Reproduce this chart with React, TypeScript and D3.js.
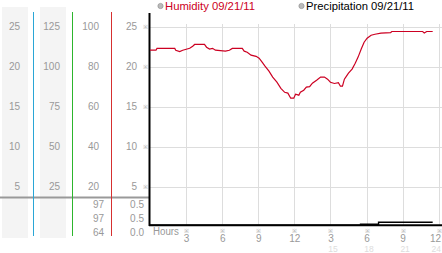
import React from "react";
import * as d3 from "d3";

const humHours = [0,0.5,0.58,2.06,2.14,2.47,2.72,3.3,3.55,3.71,4.53,4.7,4.95,5.2,5.44,6.27,6.6,6.84,7.67,7.83,8.08,8.4,8.82,9.07,9.32,9.56,9.89,10.2,10.55,10.88,11.2,11.46,11.7,11.95,12.1,12.37,12.5,12.78,13.0,13.27,13.5,13.85,14.18,14.5,14.76,15.0,15.33,15.66,15.83,16.0,16.16,16.32,16.5,16.8,17.06,17.3,17.56,17.8,18.05,18.38,18.7,19.2,20.0,20.1,22.67,22.8,23.0,23.5];
const humValues = [22.06,22.06,22.28,22.28,22.06,21.9,22.06,22.3,22.56,22.78,22.78,22.44,22.2,22.3,22.06,21.94,22.06,22.28,22.28,21.94,21.8,21.44,21.3,21.06,20.56,20.06,19.44,18.7,18.06,17.3,16.8,16.7,16.06,16.06,16.56,16.44,16.8,17.06,17.44,17.5,17.94,18.3,18.7,18.7,18.44,18.06,17.9,18.0,17.56,17.56,18.44,18.8,19.2,19.7,20.44,21.2,22.2,23.06,23.56,23.94,24.06,24.2,24.25,24.4,24.4,24.2,24.4,24.4];

const precHours = [0, 17.5, 19.0, 23.5];
const precValues = [0, 0.01, 0.03, 0.03];

const col1Ticks = [25, 20, 15, 10, 5];
const col2Ticks = [125, 100, 75, 50, 25];
const col3Ticks = [100, 80, 60, 40, 20];
const col4Ticks = [25, 20, 15, 10, 5];
const col3Lower = ["97", "97", "64"];
const col4Lower = ["0.5", "0.5", "0.0"];
const hourTicks = [3, 6, 9, 12, 15, 18, 21, 24];
const hourLabels = ["3", "6", "9", "12", "3", "6", "9", "12"];
const hourLabels24 = ["", "", "", "", "15", "18", "21", "24"];

const legendHum = "Humidity 09/21/11";
const legendPrec = "Precipitation 09/21/11";

export default function App() {
  const x = d3.scaleLinear().domain([0, 24]).range([150, 438.7]);
  const y = d3.scaleLinear().domain([0, 25]).range([226.7, 26.7]);
  const yp = d3.scaleLinear().domain([0, 0.1]).range([225.3, 215.3]);
  const lowerY = d3.scalePoint<number>().domain([0, 1, 2]).range([208, 236]);

  const humLine = d3
    .line<number>()
    .x((_, i) => x(humHours[i]))
    .y((d) => y(d))
    .curve(d3.curveLinear)(humValues) as string;

  const precLine = d3
    .line<number>()
    .x((_, i) => x(precHours[i]))
    .y((d) => yp(d))
    .curve(d3.curveStepAfter)(precValues) as string;

  const font = "'Liberation Sans', Arial, sans-serif";
  const gray = "#999";

  return (
    <svg
      width={442}
      height={253}
      style={{ position: "absolute", left: 0, top: 0, background: "#fff" }}
      fontFamily={font}
    >
      {/* shaded columns */}
      <rect x={2} y={7} width={26} height={231} fill="#f4f4f4" />
      <rect x={40} y={7} width={26} height={231} fill="#f4f4f4" />

      {/* horizontal grid */}
      {col4Ticks.map((t) => (
        <line key={"hg" + t} x1={150} x2={442} y1={Math.round(y(t)) + 0.5} y2={Math.round(y(t)) + 0.5} stroke="#ddd" />
      ))}
      {/* vertical grid */}
      {hourTicks.map((h) => (
        <line key={"vg" + h} x1={Math.round(x(h)) + 0.5} x2={Math.round(x(h)) + 0.5} y1={24} y2={225} stroke="#ddd" />
      ))}

      {/* left column labels */}
      {col1Ticks.map((t) => (
        <text key={"c1" + t} x={20} y={y(t) + 3.5} textAnchor="end" fontSize={10} fill={gray}>{t}</text>
      ))}
      {col2Ticks.map((t, i) => (
        <text key={"c2" + t} x={60} y={y(col1Ticks[i]) + 3.5} textAnchor="end" fontSize={10} fill={gray}>{t}</text>
      ))}
      {col3Ticks.map((t, i) => (
        <text key={"c3" + t} x={99} y={y(col1Ticks[i]) + 3.5} textAnchor="end" fontSize={10} fill={gray}>{t}</text>
      ))}
      {col4Ticks.map((t) => (
        <g key={"c4" + t}>
          <text x={137} y={y(t) + 3.5} textAnchor="end" fontSize={10} fill={gray}>{t}</text>
          <text x={145} y={y(t) + 2} textAnchor="middle" fontSize={6} fill="#aaa">※</text>
        </g>
      ))}
      {col3Lower.map((t, i) => (
        <text key={"l3" + i} x={104} y={lowerY(i)} textAnchor="end" fontSize={10} fill={gray}>{t}</text>
      ))}
      {col4Lower.map((t, i) => (
        <text key={"l4" + i} x={144} y={lowerY(i)} textAnchor="end" fontSize={10} fill={gray}>{t}</text>
      ))}

      {/* separator */}
      <line x1={0} x2={150} y1={197.5} y2={197.5} stroke="#999" strokeWidth={2} />

      {/* colored axis lines */}
      <line x1={33.5} x2={33.5} y1={12} y2={236} stroke="#2aa6d6" />
      <line x1={72.5} x2={72.5} y1={12} y2={236} stroke="#2db52d" />
      <line x1={111.5} x2={111.5} y1={12} y2={236} stroke="#d63030" />

      {/* main axes */}
      <line x1={149.5} x2={149.5} y1={13} y2={226} stroke="#000" strokeWidth={2} />
      <line x1={149} x2={442} y1={225.3} y2={225.3} stroke="#000" strokeWidth={2} />

      {/* data */}
      <path d={humLine} fill="none" stroke="#cc0022" strokeWidth={1.2} />
      <path d={precLine} fill="none" stroke="#000" strokeWidth={1.4} />

      {/* x axis labels */}
      <text x={153} y={235} fontSize={10} fill={gray} textLength={26} lengthAdjust="spacingAndGlyphs">Hours</text>
      {hourTicks.map((h, i) => {
        const last = i === hourTicks.length - 1;
        return (
          <g key={"xt" + h}>
            <text x={x(h) + 0.5} y={232.5} textAnchor="middle" fontSize={6} fill="#aaa">※</text>
            <text x={last ? 441 : x(h) + 0.5} y={242} textAnchor={last ? "end" : "middle"} fontSize={10} fill={gray}>{hourLabels[i]}</text>
            {hourLabels24[i] && (
              <text x={last ? 441 : x(h) + 2.5} y={252} textAnchor={last ? "end" : "middle"} fontSize={8.5} fill="#ddd">{hourLabels24[i]}</text>
            )}
          </g>
        );
      })}

      {/* legend */}
      <circle cx={160.5} cy={6} r={2.6} fill="#bbb" stroke="#999" strokeWidth={0.8} />
      <text x={165} y={10} fontSize={11} fill="#cc0022" textLength={90} lengthAdjust="spacingAndGlyphs">{legendHum}</text>
      <circle cx={301.5} cy={6} r={2.6} fill="#bbb" stroke="#999" strokeWidth={0.8} />
      <text x={306} y={10} fontSize={11} fill="#000" textLength={108} lengthAdjust="spacingAndGlyphs">{legendPrec}</text>
    </svg>
  );
}
